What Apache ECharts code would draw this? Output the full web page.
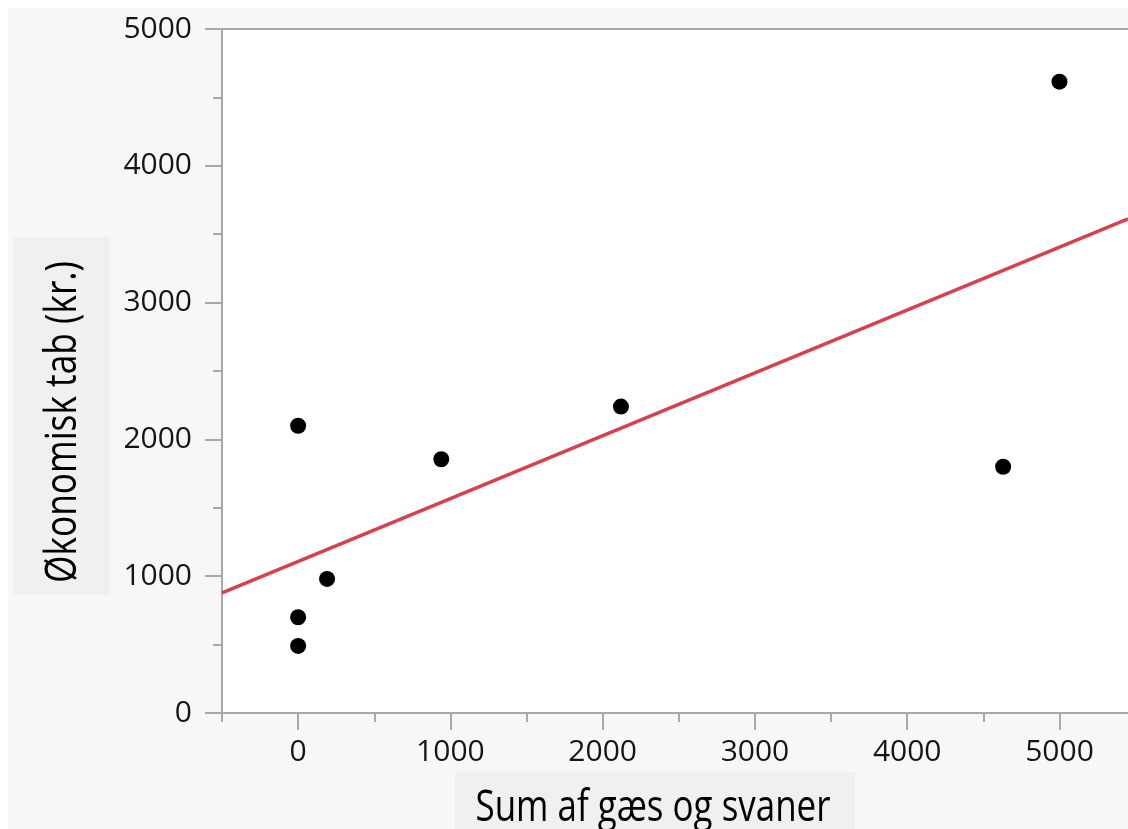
<!DOCTYPE html>
<html><head><meta charset="utf-8">
<script src="https://cdn.jsdelivr.net/npm/echarts@6/dist/echarts.min.js"></script>
<style>html,body{margin:0;padding:0;background:#fff}#c{width:1128px;height:829px}</style>
</head><body><div id="c"></div>
<script>
// ---- data ----
const geese = [0, 0, 0, 190, 940, 2120, 4630, 5000];
const loss = [2100, 700, 490, 980, 1855, 2240, 1800, 4615];
const xMajorTicks = [0, 1000, 2000, 3000, 4000, 5000];
const xMinorTicks = [-500, 500, 1500, 2500, 3500, 4500];
const xTitle = 'Sum af gæs og svaner';
const yTitle = 'Økonomisk tab (kr.)';
const xRange = [-500, 5450];
const yRange = [0, 5000];

// least-squares fit line
const n = geese.length;
const mx = geese.reduce((a, b) => a + b, 0) / n;
const my = loss.reduce((a, b) => a + b, 0) / n;
let sxy = 0, sxx = 0;
for (let i = 0; i < n; i++) { sxy += (geese[i] - mx) * (loss[i] - my); sxx += (geese[i] - mx) ** 2; }
const slope = sxy / sxx, icpt = my - slope * mx;
const fitLine = xRange.map(x => [x, icpt + slope * x]);
const points = geese.map((g, i) => [g, loss[i]]);

const FONT = '"Open Sans", "Noto Sans", sans-serif';
const meas = document.createElement('canvas').getContext('2d');
function fitScale(text, size, target) {
  meas.font = size + 'px ' + FONT;
  return target / meas.measureText(text).width;
}
const TS = 44;
const sx = fitScale(xTitle, TS, 355);
const sy = fitScale(yTitle, TS, 322);

const axisColor = '#a9a9a9';
const labelStyle = { color: '#151515', fontSize: 30, fontFamily: FONT, formatter: v => String(v) };

const chart = echarts.init(document.getElementById('c'), null, { renderer: 'canvas' });
chart.setOption({
  animation: false,
  backgroundColor: 'transparent',
  grid: { left: 222, right: 0, top: 29, bottom: 116, show: true, backgroundColor: '#ffffff', borderWidth: 0 },
  xAxis: [
    { type: 'value', min: xRange[0], max: xRange[1], position: 'bottom',
      axisLine: { show: true, onZero: false, lineStyle: { color: axisColor, width: 2 } },
      axisTick: { show: true, inside: false, length: 17, customValues: xMajorTicks, lineStyle: { color: axisColor, width: 2 } },
      axisLabel: Object.assign({ margin: 24, customValues: xMajorTicks }, labelStyle),
      splitLine: { show: false } },
    { type: 'value', min: xRange[0], max: xRange[1], position: 'bottom',
      axisLine: { show: false, onZero: false },
      axisTick: { show: true, inside: false, length: 9, customValues: xMinorTicks, lineStyle: { color: axisColor, width: 2 } },
      axisLabel: { show: false }, splitLine: { show: false } },
    { type: 'value', min: xRange[0], max: xRange[1], position: 'top',
      axisLine: { show: true, onZero: false, lineStyle: { color: axisColor, width: 2 } },
      axisTick: { show: false }, axisLabel: { show: false }, splitLine: { show: false } }
  ],
  yAxis: [
    { type: 'value', min: yRange[0], max: yRange[1], interval: 1000, position: 'left',
      axisLine: { show: true, onZero: false, lineStyle: { color: axisColor, width: 2 } },
      axisTick: { show: true, inside: false, length: 17, lineStyle: { color: axisColor, width: 2 } },
      minorTick: { show: true, splitNumber: 2, length: 9, lineStyle: { color: axisColor, width: 2 } },
      axisLabel: Object.assign({ margin: 30 }, labelStyle),
      splitLine: { show: false } }
  ],
  graphic: [
    { type: 'rect', z: -100, shape: { x: 8, y: 8, width: 1120, height: 821 }, style: { fill: '#f7f7f7' }, silent: true },
    { type: 'rect', z: -99, shape: { x: 455, y: 772, width: 400, height: 57 }, style: { fill: '#f0f0f0' }, silent: true },
    { type: 'rect', z: -99, shape: { x: 14, y: 237, width: 96, height: 358 }, style: { fill: '#f0f0f0' }, silent: true },
    { type: 'text', z: 10, x: 653, y: 808, scaleX: sx, scaleY: 1,
      style: { text: xTitle, font: TS + 'px ' + FONT, fill: '#000', align: 'center', verticalAlign: 'middle', textAlign: 'center', textVerticalAlign: 'middle' } },
    { type: 'text', z: 10, x: 63, y: 422, rotation: Math.PI / 2, scaleX: sy, scaleY: 1,
      style: { text: yTitle, font: TS + 'px ' + FONT, fill: '#000', align: 'center', verticalAlign: 'middle', textAlign: 'center', textVerticalAlign: 'middle' } }
  ],
  series: [
    { type: 'line', xAxisIndex: 0, yAxisIndex: 0, data: fitLine, showSymbol: false, symbol: 'none',
      lineStyle: { color: '#d7404f', width: 3.5 }, clip: true, z: 2 },
    { type: 'scatter', xAxisIndex: 0, yAxisIndex: 0, data: points, symbolSize: 16,
      itemStyle: { color: '#000', opacity: 1 }, z: 3 }
  ]
});
</script></body></html>
